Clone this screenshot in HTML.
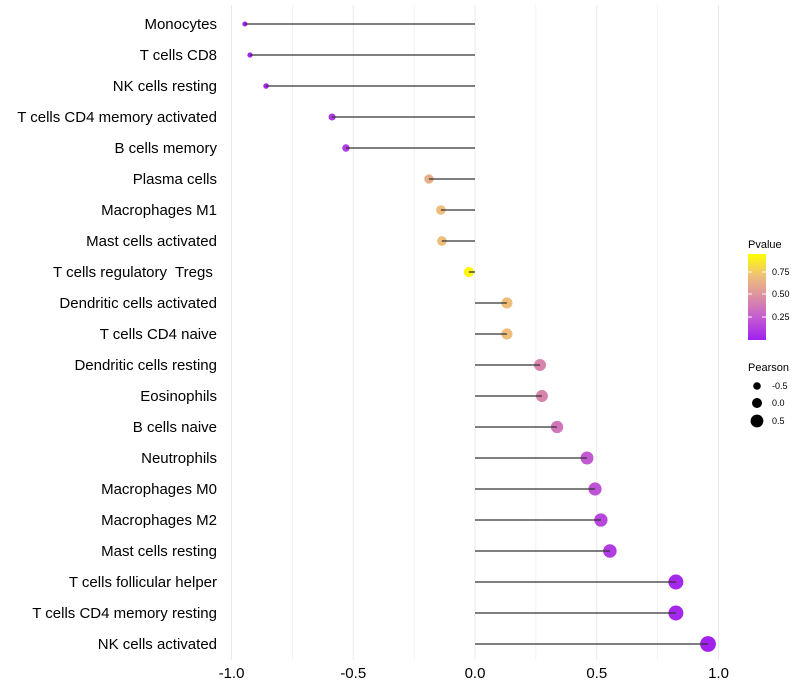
<!DOCTYPE html>
<html><head><meta charset="utf-8"><style>
body{margin:0;background:#fff;font-family:"Liberation Sans",sans-serif}
svg{display:block}
</style></head><body>
<svg id="chart" width="800" height="700">
<defs><linearGradient id="pg" x1="0" y1="1" x2="0" y2="0">
<stop offset="0" stop-color="#a020f0"/><stop offset="0.25" stop-color="#c25ad2"/><stop offset="0.5" stop-color="#dc8ea4"/><stop offset="0.75" stop-color="#eec078"/><stop offset="1" stop-color="#ffff00"/></linearGradient></defs>
<g id="grid"></g><g id="marks"></g><g id="ylabels"></g><g id="xticks"></g>
<g>
<text x="748" y="248" font-size="11" fill="#000">Pvalue</text>
<rect x="748" y="254" width="18" height="86" fill="url(#pg)"/>
<line x1="748" y1="272" x2="752" y2="272" stroke="#fff"/><line x1="762" y1="272" x2="766" y2="272" stroke="#fff"/>
<line x1="748" y1="294" x2="752" y2="294" stroke="#fff"/><line x1="762" y1="294" x2="766" y2="294" stroke="#fff"/>
<line x1="748" y1="317" x2="752" y2="317" stroke="#fff"/><line x1="762" y1="317" x2="766" y2="317" stroke="#fff"/>
<text x="772" y="275" font-size="9">0.75</text><text x="772" y="297" font-size="9">0.50</text><text x="772" y="320" font-size="9">0.25</text>
<text x="748" y="371" font-size="11">Pearson</text>
<circle cx="757" cy="386" r="3.8"/><text x="772" y="389" font-size="9">-0.5</text>
<circle cx="757" cy="403" r="5"/><text x="772" y="406" font-size="9">0.0</text>
<circle cx="757" cy="421" r="6.4"/><text x="772" y="424" font-size="9">0.5</text>
</g>
</svg>
<script>
const cells=["Monocytes","T cells CD8","NK cells resting","T cells CD4 memory activated","B cells memory","Plasma cells","Macrophages M1","Mast cells activated","T cells regulatory  Tregs ","Dendritic cells activated","T cells CD4 naive","Dendritic cells resting","Eosinophils","B cells naive","Neutrophils","Macrophages M0","Macrophages M2","Mast cells resting","T cells follicular helper","T cells CD4 memory resting","NK cells activated"];
const pearson=[-0.945,-0.924,-0.858,-0.587,-0.53,-0.189,-0.14,-0.136,-0.025,0.131,0.131,0.267,0.275,0.337,0.46,0.493,0.517,0.554,0.825,0.825,0.957];
const pvalue=[0.01,0.02,0.03,0.1,0.12,0.66,0.74,0.74,0.97,0.74,0.74,0.45,0.45,0.38,0.25,0.22,0.17,0.12,0.03,0.03,0.01];
const xTicks=[-1,-0.5,0,0.5,1];
const xTickLabels=["-1.0","-0.5","0.0","0.5","1.0"];
const xGrid=[-1,-0.75,-0.5,-0.25,0,0.25,0.5,0.75,1];
const NS="http://www.w3.org/2000/svg";
const X=v=>475+v*243.5;
const Y=i=>24+i*31;
const R=v=>5.2+2.8*v;
const stops=[[0,[160,32,240]],[0.25,[194,90,210]],[0.5,[220,142,164]],[0.75,[238,192,120]],[1,[255,255,0]]];
function col(p){for(let k=1;k<stops.length;k++){if(p<=stops[k][0]){const a=stops[k-1],b=stops[k],t=(p-a[0])/(b[0]-a[0]);return "rgb("+a[1].map((c,j)=>Math.round(c+(b[1][j]-c)*t)).join(",")+")";}}return "rgb(255,255,0)";}
function mk(t,attrs,parent){const e=document.createElementNS(NS,t);for(const k in attrs)e.setAttribute(k,attrs[k]);document.getElementById(parent).appendChild(e);return e;}
xGrid.forEach(v=>{const l=mk("line",{x1:X(v),x2:X(v),y1:5,y2:660,stroke:"#ebebeb","stroke-width":v%0.5===0?1:0.6},"grid");

});
xTicks.forEach((v,i)=>{const t=mk("text",{x:X(v),y:678,"font-size":15,"text-anchor":"middle",fill:"#000"},"xticks");t.textContent=xTickLabels[i];

});
cells.forEach((c,i)=>{
const t=mk("text",{x:217,y:Y(i)+5,"font-size":15,"text-anchor":"end",fill:"#000","xml:space":"preserve",style:"white-space:pre"},"ylabels");t.textContent=c;


const ci=mk("circle",{cx:X(pearson[i]),cy:Y(i),r:R(pearson[i]),fill:col(pvalue[i])},"marks");


const l=mk("line",{x1:X(0),x2:X(pearson[i]),y1:Y(i),y2:Y(i),stroke:"#333","stroke-width":1.3},"marks");


});
</script>
</body></html>
